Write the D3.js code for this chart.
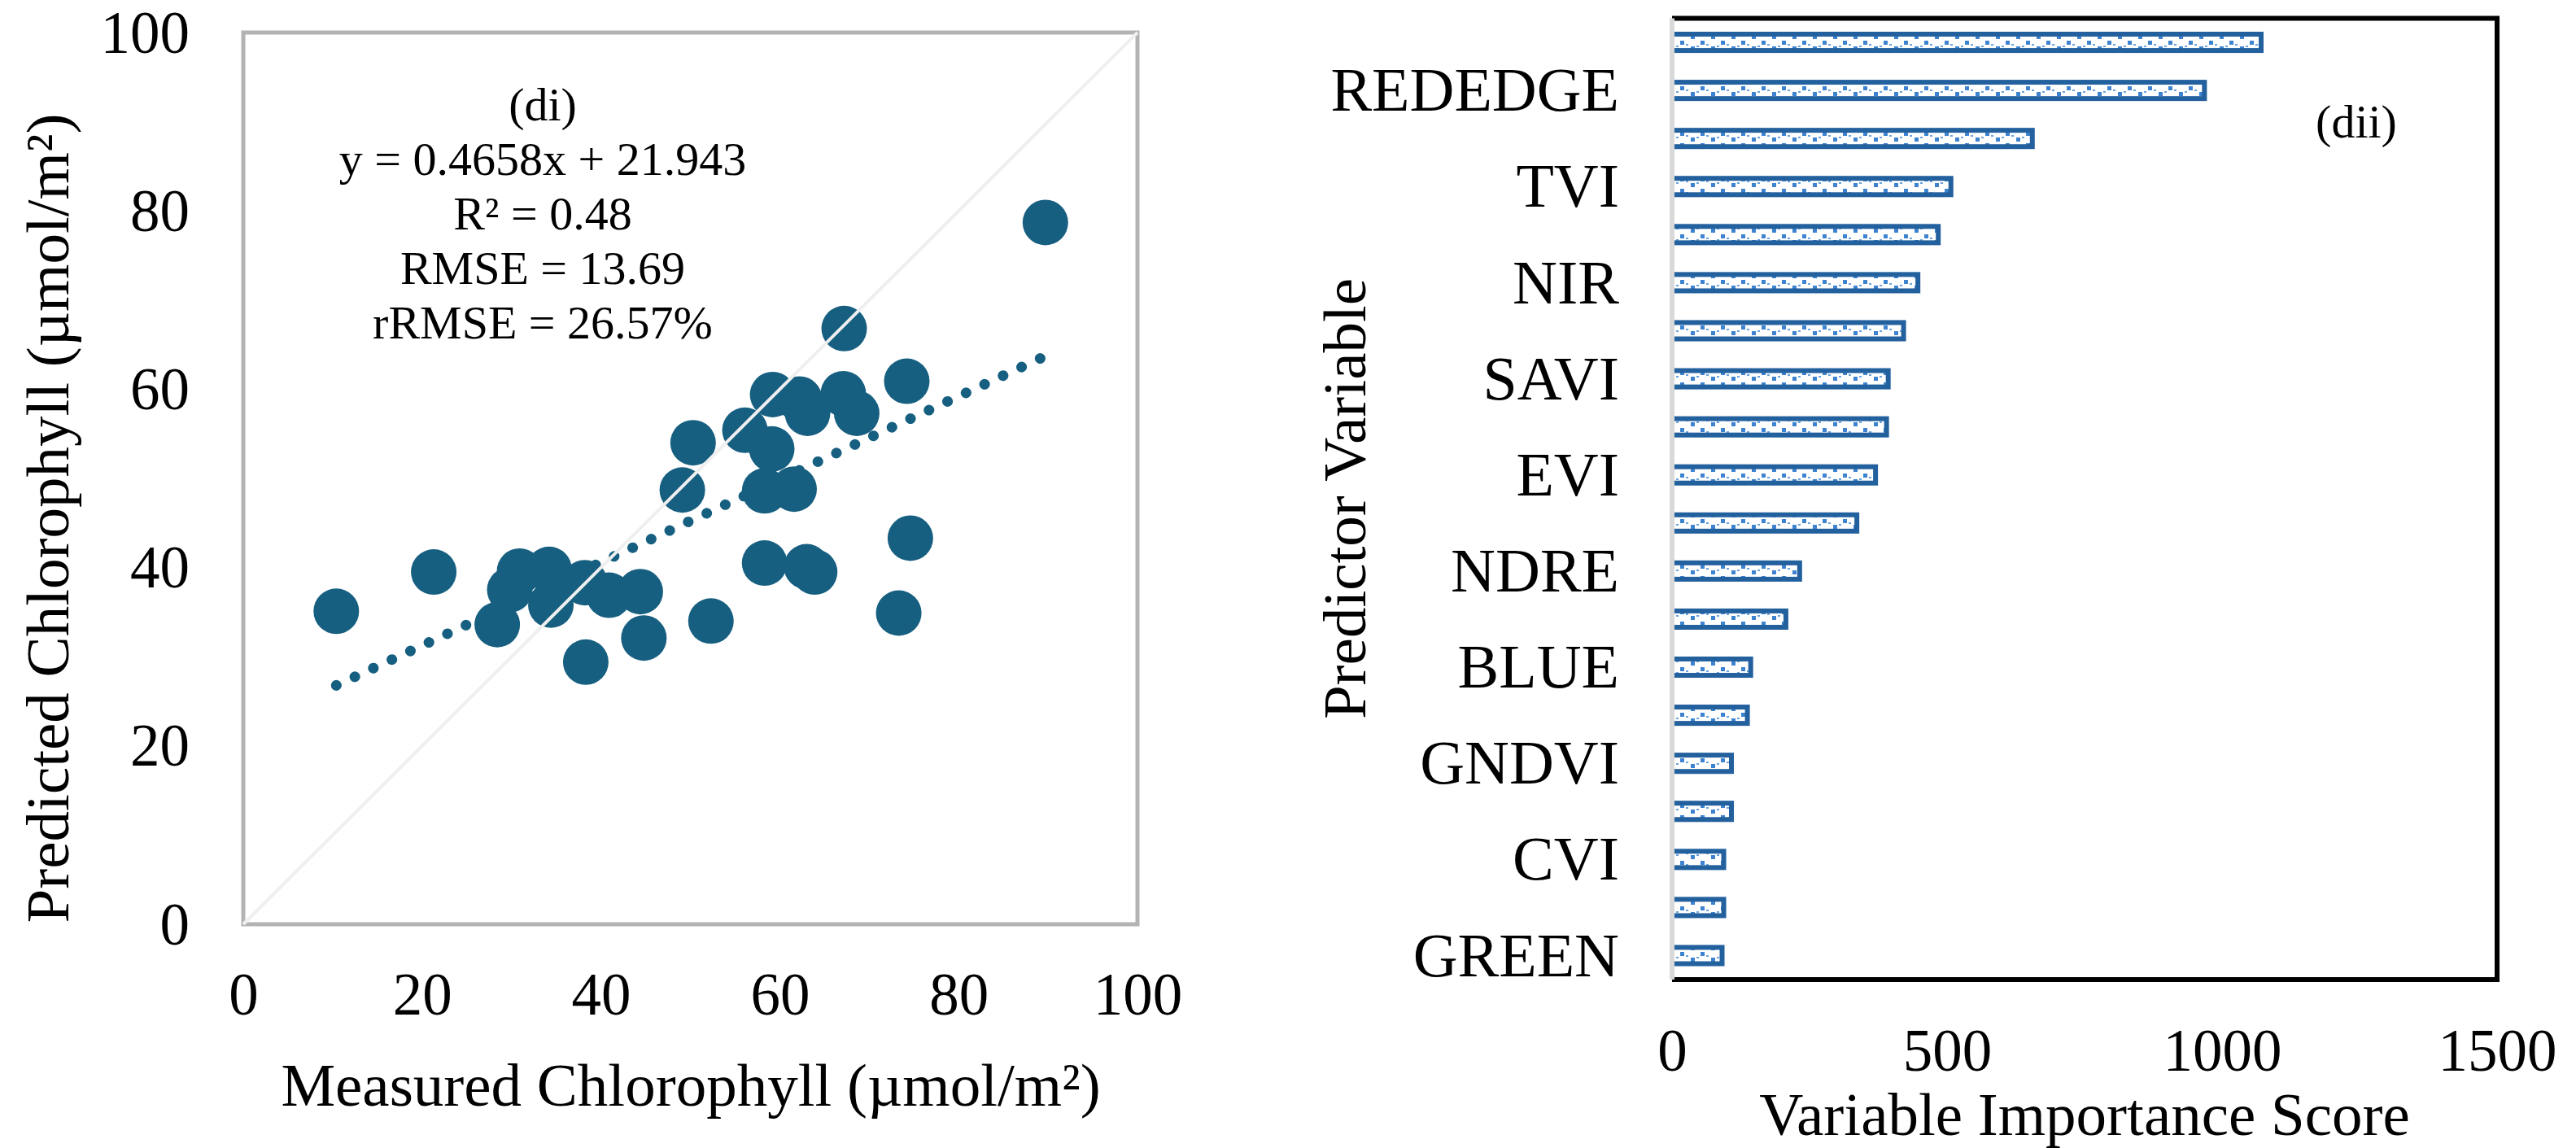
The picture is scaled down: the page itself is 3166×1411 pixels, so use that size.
<!DOCTYPE html>
<html>
<head>
<meta charset="utf-8">
<script src="https://cdn.jsdelivr.net/npm/d3@7"></script>
<style>
body{margin:0;background:#fff;}
svg{display:block;font-family:"Liberation Serif","Times New Roman",serif;}
</style>
</head>
<body>
<div id="chart"></div>
<script>
// scatter (di): measured vs predicted chlorophyll
const measured  = [10.4, 21.3, 28.4, 29.8, 30.9, 34.2, 34.4, 38.2, 38.3, 40.9, 44.4, 44.8, 52.3, 49.1, 50.3, 56.1,
                   59.2, 59.1, 58.3, 61.6, 62.2, 63.1, 67.1, 68.6, 67.2, 74.2, 74.6, 73.3, 58.3, 63.0, 63.9, 89.7];
const predicted = [35.1, 39.5, 33.6, 37.5, 39.6, 39.8, 35.8, 38.3, 29.4, 36.9, 37.3, 32.1, 34.0, 48.7, 54.0, 55.4,
                   59.4, 53.3, 48.6, 48.8, 58.9, 57.3, 59.5, 57.3, 66.8, 60.9, 43.3, 34.9, 40.5, 40.1, 39.5, 78.7];
const slope = 0.4658, intercept = 21.943;
const statLines = ['(di)', 'y = 0.4658x + 21.943', 'R² = 0.48', 'RMSE = 13.69', 'rRMSE = 26.57%'];
const scatterTicks = [0, 20, 40, 60, 80, 100];

// bars (dii): variable importance, top to bottom; only every other bar is labelled
const predictorLabels = [null, 'REDEDGE', null, 'TVI', null, 'NIR', null, 'SAVI', null, 'EVI',
                         null, 'NDRE', null, 'BLUE', null, 'GNDVI', null, 'CVI', null, 'GREEN'];
const importance = [1071, 968, 655, 507, 484, 447, 421, 393, 390, 370,
                    336, 232, 207, 143, 137, 108, 108, 94, 94, 91];
const importanceTicks = [0, 500, 1000, 1500];

const W = 3166, H = 1411;
const svg = d3.select('#chart').append('svg').attr('width', W).attr('height', H);

// excel-ish dotted pattern fill for the bars
const defs = svg.append('defs');
const pat = defs.append('pattern').attr('id', 'dots')
  .attr('patternUnits', 'userSpaceOnUse').attr('width', 25).attr('height', 14);
pat.append('rect').attr('width', 25).attr('height', 14).attr('fill', '#fff');
pat.append('rect').attr('x', 3).attr('y', 1).attr('width', 5).attr('height', 5).attr('fill', '#3d83d0');
pat.append('rect').attr('x', 15).attr('y', 8).attr('width', 5).attr('height', 5).attr('fill', '#3d83d0');
pat.append('rect').attr('x', 10).attr('y', 0).attr('width', 3).attr('height', 2).attr('fill', '#6aa3de');
pat.append('rect').attr('x', 22).attr('y', 12).attr('width', 3).attr('height', 2).attr('fill', '#6aa3de');

const ink = '#175f80';

function styleAxis(g, size, textY) {
  g.attr('font-family', null).attr('font-size', null);
  g.select('.domain').remove();
  const t = g.selectAll('text').attr('font-size', size).attr('fill', '#000');
  if (textY !== undefined) t.attr('y', textY).attr('dy', 0);
  else t.attr('dy', '0.33em');
}

// ---------- left: scatter ----------
const x = d3.scaleLinear().domain([0, 100]).range([299, 1398]);
const y = d3.scaleLinear().domain([0, 100]).range([1136, 40]);

svg.append('rect')
  .attr('x', x(0)).attr('y', y(100))
  .attr('width', x(100) - x(0)).attr('height', y(0) - y(100))
  .attr('fill', 'none').attr('stroke', '#b3b3b3').attr('stroke-width', 5);

const pts = measured.map((m, i) => ({m, p: predicted[i]}));
svg.append('g').selectAll('circle').data(pts).enter().append('circle')
  .attr('cx', d => x(d.m)).attr('cy', d => y(d.p)).attr('r', 28)
  .attr('fill', ink);

const xMin = d3.min(measured), xMax = d3.max(measured);
svg.append('line')
  .attr('x1', x(xMin)).attr('y1', y(slope * xMin + intercept))
  .attr('x2', x(xMax)).attr('y2', y(slope * xMax + intercept))
  .attr('stroke', ink).attr('stroke-width', 13)
  .attr('stroke-linecap', 'round').attr('stroke-dasharray', '0.1 25');

// 1:1 line
svg.append('line')
  .attr('x1', x(0)).attr('y1', y(0)).attr('x2', x(100)).attr('y2', y(100))
  .attr('stroke', '#efefef').attr('stroke-width', 4);

svg.append('g').attr('transform', `translate(0,${y(0)})`)
  .call(d3.axisBottom(x).tickValues(scatterTicks).tickSize(0))
  .call(g => styleAxis(g, 73, 111));

svg.append('g').attr('transform', `translate(${x(0)},0)`)
  .call(d3.axisLeft(y).tickValues(scatterTicks).tickSize(0).tickPadding(66))
  .call(g => styleAxis(g, 73));

svg.append('text').attr('x', 849).attr('y', 1359).attr('text-anchor', 'middle')
  .attr('font-size', 75).text('Measured Chlorophyll (µmol/m²)');
svg.append('text').attr('transform', 'translate(84,637) rotate(-90)').attr('text-anchor', 'middle')
  .attr('font-size', 75).text('Predicted Chlorophyll (µmol/m²)');

svg.append('g').selectAll('text').data(statLines).enter().append('text')
  .attr('x', 667).attr('y', (d, i) => 148 + i * 67).attr('text-anchor', 'middle')
  .attr('font-size', 58).text(d => d);

// ---------- right: bars ----------
const bx = d3.scaleLinear().domain([0, 1500]).range([2055, 3069]);
const by = d3.scaleBand().domain(d3.range(importance.length)).range([22.5, 1204])
  .paddingInner(0.66).paddingOuter(0.33);

svg.append('g').selectAll('rect').data(importance).enter().append('rect')
  .attr('x', bx(0)).attr('y', (d, i) => by(i))
  .attr('width', d => bx(d) - bx(0)).attr('height', by.bandwidth())
  .attr('fill', 'url(#dots)').attr('stroke', '#23609e').attr('stroke-width', 6);

svg.append('path')
  .attr('d', `M${bx(0)},${by.range()[0]}H${bx(1500)}V${by.range()[1]}H${bx(0)}`)
  .attr('fill', 'none').attr('stroke', '#000').attr('stroke-width', 6);
svg.append('line')
  .attr('x1', bx(0)).attr('x2', bx(0)).attr('y1', by.range()[0]).attr('y2', by.range()[1])
  .attr('stroke', '#d9d9d9').attr('stroke-width', 6);

svg.append('g').attr('transform', `translate(0,${by.range()[1]})`)
  .call(d3.axisBottom(bx).tickValues(importanceTicks).tickSize(0).tickFormat(d3.format('d')))
  .call(g => styleAxis(g, 73, 112));

svg.append('g').attr('transform', `translate(${bx(0)},0)`)
  .call(d3.axisLeft(by).tickSize(0).tickPadding(65).tickFormat(i => predictorLabels[i] || ''))
  .call(g => styleAxis(g, 76));

svg.append('text').attr('x', 2562).attr('y', 1395).attr('text-anchor', 'middle')
  .attr('font-size', 75).text('Variable Importance Score');
svg.append('text').attr('transform', 'translate(1678,613) rotate(-90)').attr('text-anchor', 'middle')
  .attr('font-size', 75).text('Predictor Variable');
svg.append('text').attr('x', 2896).attr('y', 169).attr('text-anchor', 'middle')
  .attr('font-size', 58).text('(dii)');
</script>
</body>
</html>
